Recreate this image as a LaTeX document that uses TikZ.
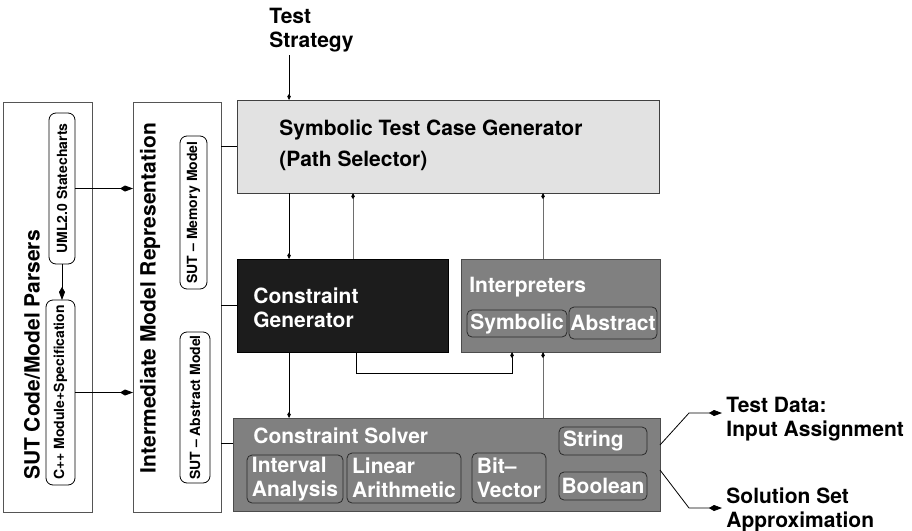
\documentclass[tikz,border=0pt]{standalone}
\usepackage{fontspec}
\setmainfont{TeX Gyre Heros}
\usetikzlibrary{arrows.meta}

\definecolor{lightpanel}{HTML}{E2E2E2}
\definecolor{darkpanel}{HTML}{1C1C1C}
\definecolor{midpanel}{HTML}{808080}
\definecolor{pillline}{HTML}{2A2A2A}
\definecolor{greyline}{HTML}{6E6E6E}
\definecolor{frameline}{HTML}{555555}

\tikzset{
  bigfont/.style={font=\bfseries\fontsize{21}{24}\selectfont},
  smallfont/.style={font=\bfseries\fontsize{14}{16}\selectfont},
  lbl/.style={bigfont, align=left, inner sep=0pt, anchor=north west},
  panel/.style={draw=frameline, line width=1pt, inner sep=0pt, outer sep=0pt, anchor=north west},
  pill/.style={draw=pillline, line width=0.8pt, rounded corners=5pt, inner sep=1pt, outer sep=0pt,
               fill=midpanel, text=white, bigfont, align=left},
  vpill/.style={draw=black, line width=0.8pt, rounded corners=7pt, inner sep=0pt, outer sep=0pt,
                fill=white, smallfont},
  bigarrow/.style={-{Kite[length=13pt, width=6pt, inset=5pt]}},
  sarrow/.style={-{Kite[length=6pt, width=3.5pt, inset=2.5pt, color=black]}}
}

\begin{document}
\begin{tikzpicture}[x=1pt, y=-1pt, line width=0.8pt]
    \useasboundingbox (0,0) rectangle (912,530);

    % -- Left: parsers and intermediate representation --
    \node[panel, minimum width=89pt, minimum height=410pt] (parsers) at (3,102) {};
    \node[panel, minimum width=88pt, minimum height=410pt] (imr) at (133,102) {};
    \node[bigfont, rotate=90, inner sep=0pt] (parsers-lbl) at (32,355) {SUT Code/Model Parsers};
    \node[bigfont, rotate=90, inner sep=0pt] (imr-lbl) at (150,298) {Intermediate Model Representation};

    \node[vpill, minimum width=26pt, minimum height=151pt] (uml) at (62,188.5) {\rotatebox{90}{UML2.0 Statecharts}};
    \node[vpill, minimum width=29pt, minimum height=185pt] (cpp) at (60.5,392.5) {\rotatebox{90}{C++ Module+Specification}};
    \node[vpill, minimum width=27pt, minimum height=153pt] (mem) at (193.5,212.5) {\rotatebox{90}{SUT -- Memory Model}};
    \node[vpill, minimum width=30pt, minimum height=151pt] (absm) at (195,407.5) {\rotatebox{90}{SUT -- Abstract Model}};

    % -- Main blocks --
    \node[panel, fill=lightpanel, draw=black!75, minimum width=422pt, minimum height=93pt] (stcg) at (237,100) {};
    \node[panel, fill=darkpanel, draw=black, minimum width=211pt, minimum height=93pt] (cgen) at (237,259) {};
    \node[panel, fill=midpanel, draw=black!70, minimum width=199pt, minimum height=93pt] (interp) at (461,259) {};
    \node[panel, fill=midpanel, draw=black!70, minimum width=427pt, minimum height=93pt] (solver) at (233,418) {};

    \node[lbl] (stcg-lbl) at (279,119) {Symbolic Test Case Generator\\[7pt](Path Selector)};
    \node[lbl, text=white] (cgen-lbl) at (253,287) {Constraint\\Generator};
    \node[lbl, text=white] (interp-lbl) at (469,277) {Interpreters};
    \node[lbl, text=white] (solver-lbl) at (253,427) {Constraint Solver};

    % Sub-blocks
    \node[pill, minimum width=100pt, minimum height=27pt] (symb) at (517,323.5) {Symbolic};
    \node[pill, minimum width=88pt, minimum height=32pt] (abstr) at (613,323) {Abstract};
    \node[pill, minimum width=96pt, minimum height=48pt] (interval) at (295,479) {Interval\\Analysis};
    \node[pill, minimum width=114pt, minimum height=50pt] (linear) at (404,478) {Linear\\Arithmetic};
    \node[pill, minimum width=74pt, minimum height=50pt] (bitvec) at (509,478) {Bit--\\Vector};
    \node[pill, minimum width=88pt, minimum height=28pt, text width=80pt] (string) at (603,441) {String};
    \node[pill, minimum width=88pt, minimum height=28pt] (bool) at (603,486) {Boolean};

    % -- Outside texts --
    \node[lbl] (strat) at (269,8) {Test\\Strategy};
    \node[lbl] (tdata) at (726,397) {Test Data:\\Input Assignment};
    \node[lbl] (solset) at (726,487) {Solution Set\\Approximation};

    % -- Connectors --
    \coordinate (ts) at (289,55);
    \coordinate (c1) at (289,0);
    \coordinate (c2) at (353,0);
    \coordinate (c3) at (543,0);
    \coordinate (e1) at (356,373);
    \coordinate (e2) at (512,373);
    \coordinate (o1) at (689,413);
    \coordinate (o2) at (689,508);

    \draw[bigarrow] (uml.east) -- (uml.east -| imr.west);
    \draw[bigarrow] (cpp.east) -- (cpp.east -| imr.west);
    \draw[bigarrow] (uml.south) -- (uml.south |- cpp.north);

    \draw (imr.east |- stcg.west) -- (stcg.west);
    \draw (imr.east |- cgen.west) -- (cgen.west);
    \draw ([yshift=21.5pt]solver.west -| imr.east) -- ([yshift=21.5pt]solver.west);

    \draw[sarrow] (ts) -- (ts |- stcg.north);
    \draw[sarrow] (c1 |- stcg.south) -- (c1 |- cgen.north);
    \draw[sarrow, greyline] (c2 |- cgen.north) -- (c2 |- stcg.south);
    \draw[sarrow, greyline] (c3 |- interp.north) -- (c3 |- stcg.south);
    \draw[sarrow] (c1 |- cgen.south) -- (c1 |- solver.north);
    \draw[sarrow] (e1 |- cgen.south) -- (e1) -- (e2) -- (e2 |- interp.south);
    \draw[sarrow, greyline] (c3 |- solver.north) -- (c3 |- interp.south);

    \draw[bigarrow, shorten >=4pt] ([yshift=19.5pt]solver.east) -- (o1) -- (o1 -| tdata.west);
    \draw[bigarrow, shorten >=4pt] ([yshift=-5.5pt]solver.east) -- (o2) -- (o2 -| solset.west);
\end{tikzpicture}
\end{document}
